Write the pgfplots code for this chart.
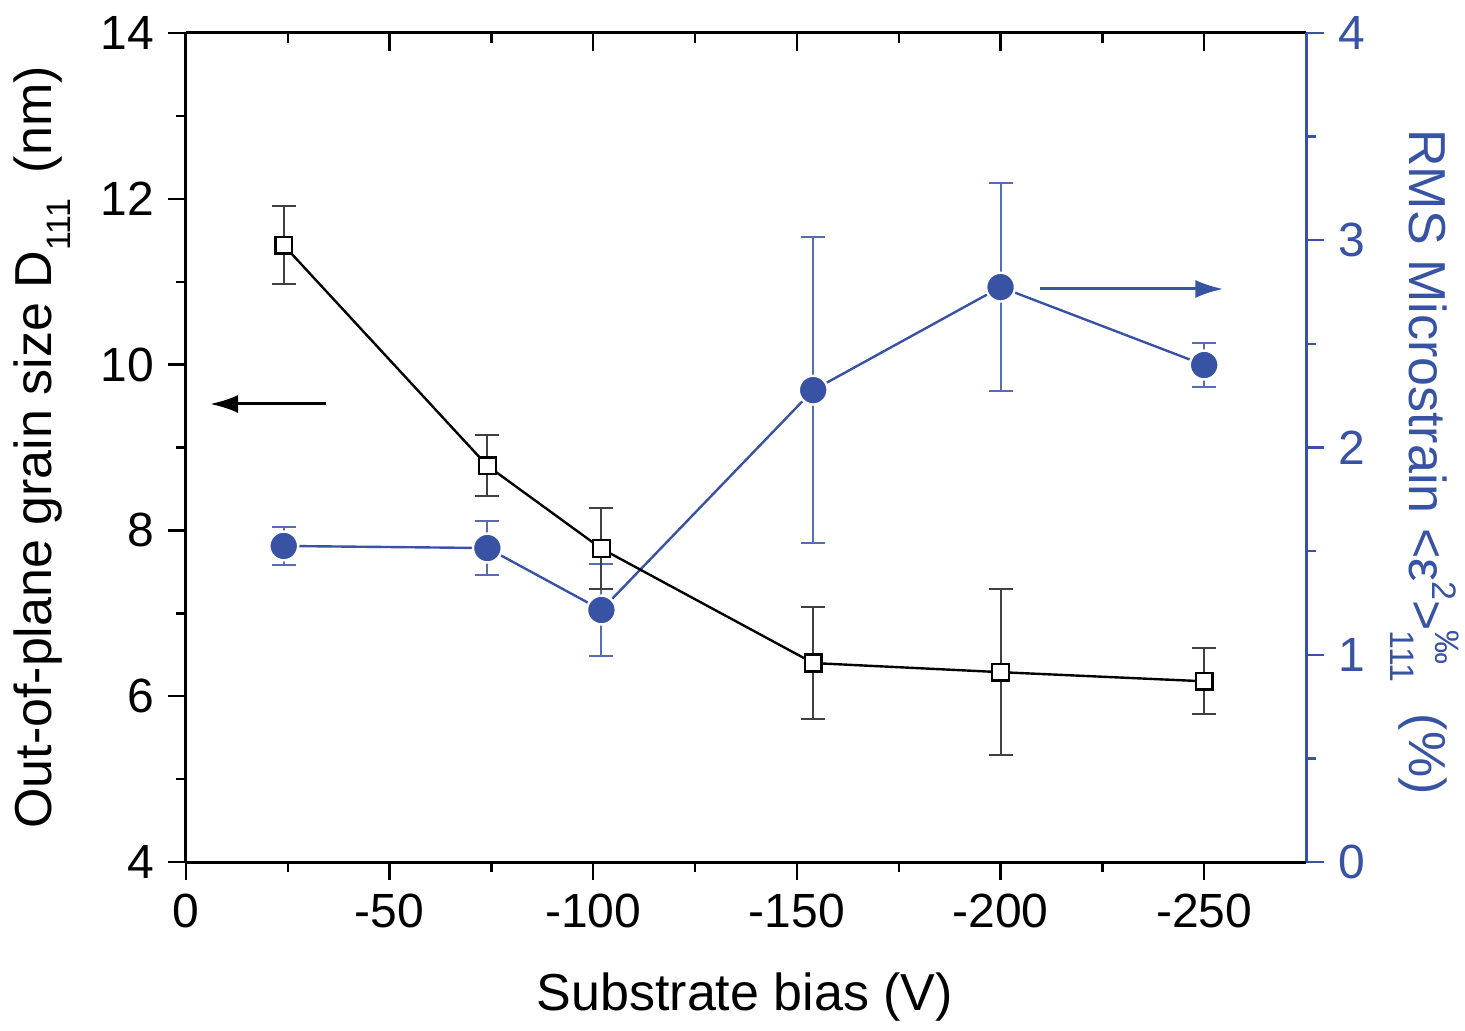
\documentclass[border=0pt]{standalone}
\usepackage{fontspec}
\setmainfont{Liberation Sans}
\usepackage{pgfplots}
\pgfplotsset{compat=1.18}
\usetikzlibrary{arrows.meta}
\definecolor{obl}{RGB}{56,83,164}
\begin{document}
\begin{tikzpicture}
\pgfplotsset{
  common/.style={
    scale only axis, width=280pt, height=207.25pt,
    x dir=reverse, xmin=-275, xmax=0,
    xtick={0,-50,-100,-150,-200,-250},
    minor x tick num=1,
    /pgf/number format/assume math mode=true,
    tick label style={font=\fontsize{12}{14}\selectfont},
    major tick length=4.5pt, minor tick length=2.5pt,
    axis line style={-, line width=0.75pt},
    every tick/.style={line width=0.6pt},
    clip=false,
  }
}
% top axis line with inward ticks
\begin{axis}[common,
  axis x line*=top, axis y line=none,
  tick align=inside, xticklabels={},
  ymin=4, ymax=14]
\end{axis}
% right axis: microstrain
\begin{axis}[common,
  axis x line=none, axis y line*=right,
  tick align=outside,
  ymin=0, ymax=4, ytick={0,1,2,3,4}, minor y tick num=1,
  y axis line style={obl}, ytick style={obl},
  yticklabel style={text=obl}]
\addplot[obl, line width=0.6pt, mark=*, mark size=3.6pt,
  mark options={fill=obl, draw=white, line width=0.6pt},
  error bars/.cd, y dir=both, y explicit,
  error bar style={obl!85, line width=0.5pt},
  error mark options={rotate=90, mark size=3pt, line width=0.5pt, obl!85}]
  table[x=x, y=y, y error=e] {
x y e
-24 1.525 0.09
-74 1.515 0.13
-102 1.216 0.22
-154 2.277 0.74
-200 2.774 0.50
-250 2.398 0.105
};
\draw[obl, line width=0.75pt, -{Latex[length=7pt,width=4.5pt]}] (axis cs:-209.7,2.765) -- (axis cs:-254.7,2.765);
\node[obl, rotate=-90, anchor=center, font=\fontsize{13}{15}\selectfont] at (axis description cs:1.106,0.4825)
  {RMS Microstrain <ε\raisebox{0.85ex}{\fontsize{8.5}{10}\selectfont 2}>\rlap{\raisebox{0.95ex}{\fontsize{8.5}{10}\selectfont ‰}}\raisebox{-0.7ex}{\fontsize{8.5}{10}\selectfont 111}\hspace{0.6em}(\%)};
\end{axis}
% main axis: grain size
\begin{axis}[common, name=main,
  axis x line*=bottom, axis y line*=left,
  tick align=outside,
  ymin=4, ymax=14, ytick={4,6,8,10,12,14}, minor y tick num=1,
  xlabel={Substrate bias (V)},
  ylabel={Out-of-plane grain size D\raisebox{-0.7ex}{\fontsize{8.5}{10}\selectfont 111}\hspace{0.5em}(nm)},
  label style={font=\fontsize{13}{15}\selectfont},
  xlabel style={at={(axis description cs:0.499,-0.163)}, anchor=center},
  ylabel style={at={(axis description cs:-0.1286,0.5)}, anchor=center}]
\addplot[black, line width=0.6pt, mark=square*, mark size=2.1pt,
  mark options={fill=white, draw=black, line width=0.6pt},
  error bars/.cd, y dir=both, y explicit,
  error bar style={black!75, line width=0.5pt},
  error mark options={rotate=90, mark size=3pt, line width=0.5pt, black!75}]
  table[x=x, y=y, y error=e] {
x y e
-24 11.44 0.47
-74 8.78 0.37
-102 7.78 0.49
-154 6.40 0.68
-200 6.29 1.00
-250 6.18 0.40
};
\draw[black, line width=0.75pt, -{Latex[length=7pt,width=4.5pt]}] (axis cs:-34.4,9.525) -- (axis cs:-5.9,9.525);
\end{axis}
\pgfresetboundingbox
\path[use as bounding box] ([shift={(-46.5pt,-42pt)}]main.south west) rectangle ([shift={(39.75pt,8.25pt)}]main.north east);
\end{tikzpicture}
\end{document}
